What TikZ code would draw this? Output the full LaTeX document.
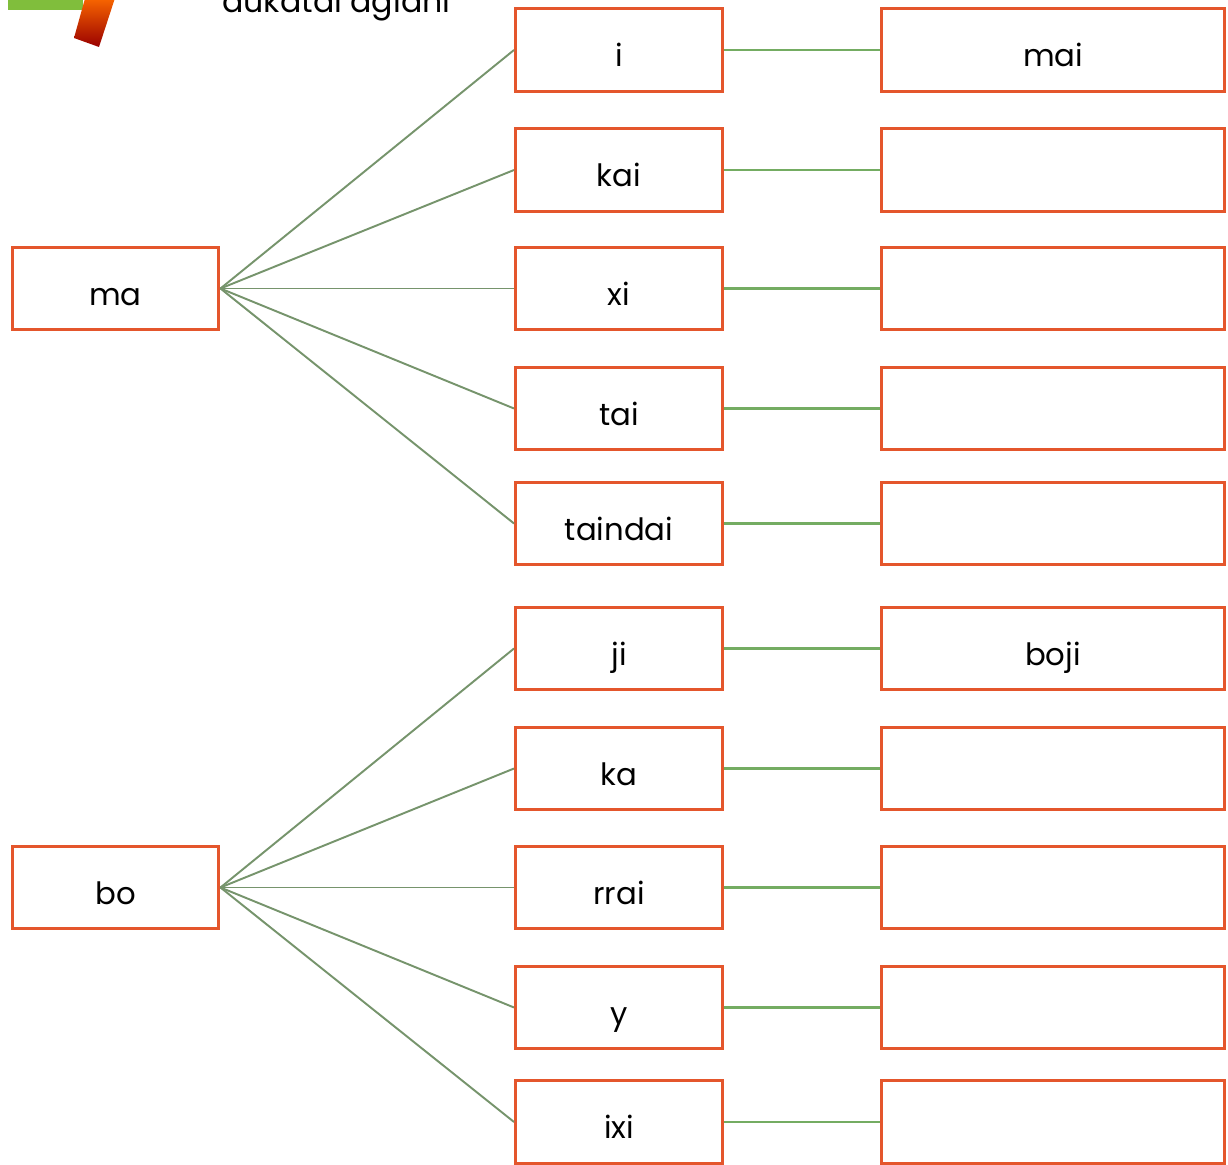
\documentclass[tikz,border=0pt]{standalone}
\usepackage{fontspec}
\setmainfont{Poppins}
\usetikzlibrary{calc}

\begin{document}
\begin{tikzpicture}[x=0.02cm, y=-0.02cm]

\def \midx {619}
\def \rightx {1053}

\definecolor{c_box}{RGB}{228,86,44}
\definecolor{c_fan}{RGB}{118,148,108}
\definecolor{c_link}{RGB}{116,172,98}
\definecolor{c_bar}{RGB}{128,190,60}

\tikzset{
  box/.style={draw=c_box, line width=0.06cm, fill=white, inner sep=0pt,
    minimum width=4.14cm, minimum height=1.66cm,
    text height=19pt, text depth=0pt,
    font=\fontsize{17.5}{20}\selectfont},
  widebox/.style={box, minimum width=6.86cm},
  fan/.style={draw=c_fan, line width=1.1pt},
  link/.style={draw=c_link, line width=1.6pt}
}

\useasboundingbox (0,0) rectangle (1228,1165);
\clip (0,0) rectangle (1228,1165);

% Corner of the page heading
\fill[c_bar] (8,-5) rectangle (83,10);
\shade[top color=orange!85!red, bottom color=red!60!black]
  (86,-5) -- (116,-5) -- (99,47) -- (74,38) -- cycle;
\node (heading) at (216,13) [anchor=base west, font=\fontsize{18}{22}\selectfont] {aukatai agiani};

% Roots
\node (ma) at (115.5, 288.5) [box] {ma};
\node (bo) at (115.5, 887.5) [box] {bo};

% Suffixes after ma
\foreach \s/\y/\word in {1/50/i, 2/170/kai, 3/288.5/xi, 4/408.5/tai, 5/523.5/taindai} {
  \node (ma\s) at (\midx, \y) [box] {\word};
}

% Suffixes after bo
\foreach \s/\y/\word in {1/648.5/ji, 2/768.5/ka, 3/887.5/rrai, 4/1007.5/y, 5/1122/ixi} {
  \node (bo\s) at (\midx, \y) [box] {\word};
}

% Answer boxes
\foreach \s/\word in {1/mai, 2/, 3/, 4/, 5/} {
  \node (maw\s) at (\rightx, 0 |- ma\s) [widebox] {\word};
}
\foreach \s/\word in {1/boji, 2/, 3/, 4/, 5/} {
  \node (bow\s) at (\rightx, 0 |- bo\s) [widebox] {\word};
}

% Join nodes together
\foreach \s in {1,...,5} {
  \draw[fan] (ma.east) -- (ma\s.west);
  \draw[fan] (bo.east) -- (bo\s.west);
  \draw[link] (ma\s.east) -- (maw\s.west);
  \draw[link] (bo\s.east) -- (bow\s.west);
}

\end{tikzpicture}
\end{document}
